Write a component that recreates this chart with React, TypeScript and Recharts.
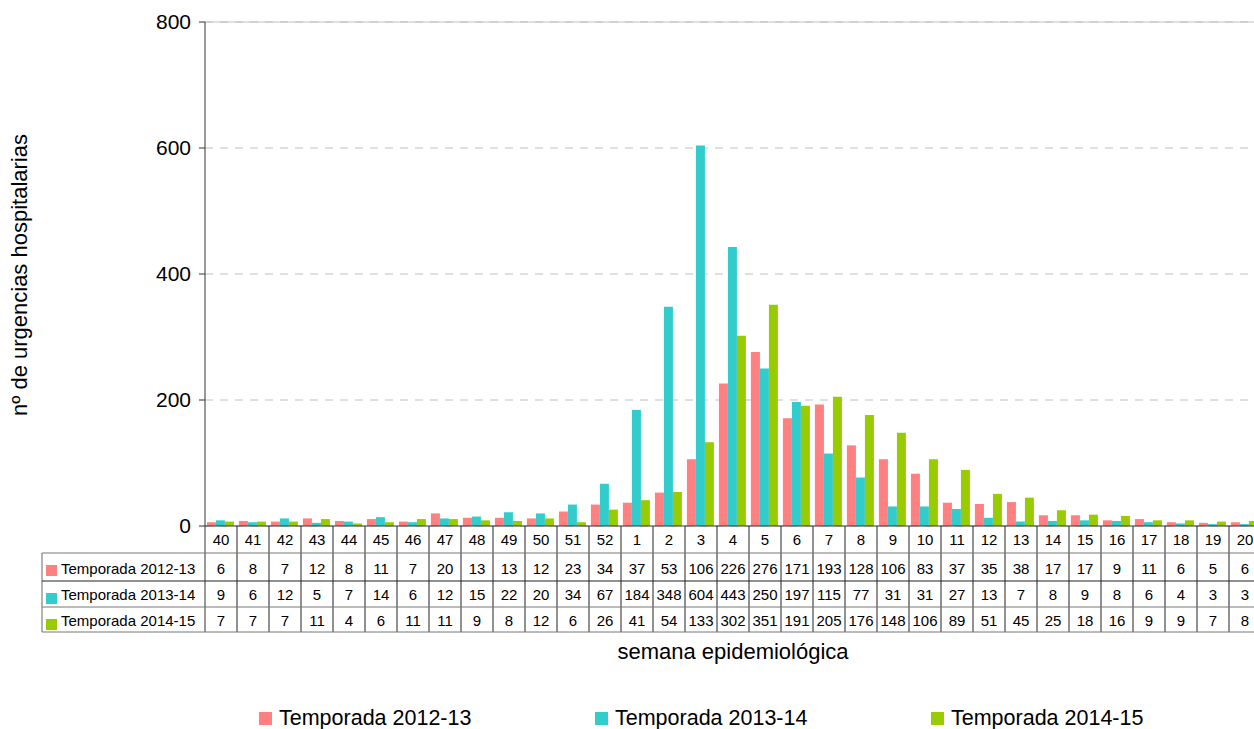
import React from 'react';
import { BarChart, Bar, XAxis, YAxis, CartesianGrid, ReferenceLine } from 'recharts';

// semanas epidemiológicas (40..52 y 1..20)
const weeks = ['40', '41', '42', '43', '44', '45', '46', '47', '48', '49', '50', '51', '52',
  '1', '2', '3', '4', '5', '6', '7', '8', '9', '10', '11', '12', '13', '14', '15', '16', '17', '18', '19', '20'];

const t1213 = [6, 8, 7, 12, 8, 11, 7, 20, 13, 13, 12, 23, 34,
  37, 53, 106, 226, 276, 171, 193, 128, 106, 83, 37, 35, 38, 17, 17, 9, 11, 6, 5, 6];
const t1314 = [9, 6, 12, 5, 7, 14, 6, 12, 15, 22, 20, 34, 67,
  184, 348, 604, 443, 250, 197, 115, 77, 31, 31, 27, 13, 7, 8, 9, 8, 6, 4, 3, 3];
const t1415 = [7, 7, 7, 11, 4, 6, 11, 11, 9, 8, 12, 6, 26,
  41, 54, 133, 302, 351, 191, 205, 176, 148, 106, 89, 51, 45, 25, 18, 16, 9, 9, 7, 8];

const yTicks = [0, 200, 400, 600, 800];

const SERIES = [
  { key: 't1213', name: 'Temporada 2012-13', color: '#FF8080', values: t1213 },
  { key: 't1314', name: 'Temporada 2013-14', color: '#33CCCC', values: t1314 },
  { key: 't1415', name: 'Temporada 2014-15', color: '#99CC00', values: t1415 },
];

const data = weeks.map((w, i) => ({ week: w, t1213: t1213[i], t1314: t1314[i], t1415: t1415[i] }));

const W = 1280;
const H = 729;
const LEFT = 205;
const RIGHT = 19;
const BAND = (W - LEFT - RIGHT) / weeks.length;
const FONT = '"Liberation Sans", Arial, sans-serif';

// row baselines / separators relative to the x axis line
const HEADER_BASE = 19;
const ROW_LINES = [27, 55, 81, 106];
const ROW_BASES = [48, 74, 100];

function TableTick(props: any) {
  const { x, y, payload } = props;
  const i = payload.index;
  const x0 = x - BAND / 2;
  const x1 = x + BAND / 2;
  return (
    <g>
      {i === 0 && (
        <g>
          <line x1={x0} y1={y} x2={x0} y2={y + ROW_LINES[3]} stroke="#333" />
          <line x1={42} y1={y + ROW_LINES[0]} x2={42} y2={y + ROW_LINES[3]} stroke="#666" />
          {ROW_LINES.map((ly, k) => (
            <line key={k} x1={42} y1={y + ly} x2={x0} y2={y + ly} stroke={k === 1 ? '#222' : '#777'} />
          ))}
          {SERIES.map((s, k) => (
            <g key={s.key}>
              <rect x={46} y={y + ROW_LINES[k] + 12} width={11} height={11} fill={s.color} />
              <text x={61} y={y + ROW_BASES[k]} fontSize={15} fontFamily={FONT} fill="#000">{s.name}</text>
            </g>
          ))}
        </g>
      )}
      <line x1={x1} y1={y} x2={x1} y2={y + ROW_LINES[3]} stroke="#222" />
      {ROW_LINES.map((ly, k) => (
        <line key={k} x1={x0} y1={y + ly} x2={x1} y2={y + ly} stroke={k === 1 ? '#222' : '#777'} />
      ))}
      <text x={x} y={y + HEADER_BASE} textAnchor="middle" fontSize={15} fontFamily={FONT} fill="#000">
        {payload.value}
      </text>
      {SERIES.map((s, k) => (
        <text key={s.key} x={x} y={y + ROW_BASES[k]} textAnchor="middle" fontSize={15} fontFamily={FONT} fill="#000">
          {s.values[i]}
        </text>
      ))}
    </g>
  );
}

function YLabel(props: any) {
  const { viewBox } = props;
  const cx = 27;
  const cy = viewBox.y + viewBox.height / 2 + 1;
  return (
    <text x={cx} y={cy} transform={`rotate(-90 ${cx} ${cy})`} textAnchor="middle"
      fontSize={22} fontFamily={FONT} fill="#000">
      nº de urgencias hospitalarias
    </text>
  );
}

function XLabel(props: any) {
  const { viewBox } = props;
  return (
    <text x={viewBox.x + viewBox.width / 2} y={viewBox.y + 133} textAnchor="middle"
      fontSize={22} fontFamily={FONT} fill="#000">
      semana epidemiológica
    </text>
  );
}

export default function App() {
  return (
    <div style={{ position: 'fixed', left: 0, top: 0, width: 1254, height: 729, overflow: 'hidden', background: '#fff', fontFamily: FONT }}>
      <BarChart width={W} height={H} data={data} margin={{ top: 22, right: RIGHT, bottom: 0, left: 0 }}
        barCategoryGap="6%" barGap={0}>
        <CartesianGrid vertical={false} stroke="#c0c0c0" strokeDasharray="8 7" />
        <ReferenceLine y={800} stroke="#c0c0c0" />
        <XAxis dataKey="week" height={H - 22 - 504} interval={0} tickLine={false} tickSize={0} tickMargin={0}
          stroke="#333" tick={<TableTick />} label={<XLabel />} />
        <YAxis width={LEFT} domain={[0, 800]} ticks={yTicks} interval={0} tickSize={6} tickMargin={8}
          stroke="#333" tick={{ fontSize: 21, fill: '#000', fontFamily: FONT }} label={<YLabel />} />
        {SERIES.map((s) => (
          <Bar key={s.key} dataKey={s.key} name={s.name} fill={s.color} isAnimationActive={false} />
        ))}
      </BarChart>
      <div style={{ position: 'absolute', left: 259, top: 706, display: 'flex' }}>
        {SERIES.map((s) => (
          <div key={s.key} style={{ width: 336, display: 'flex', alignItems: 'center', fontSize: 21.5, color: '#000' }}>
            <span style={{ display: 'inline-block', width: 13, height: 13, background: s.color, marginRight: 7 }} />
            {s.name}
          </div>
        ))}
      </div>
    </div>
  );
}
